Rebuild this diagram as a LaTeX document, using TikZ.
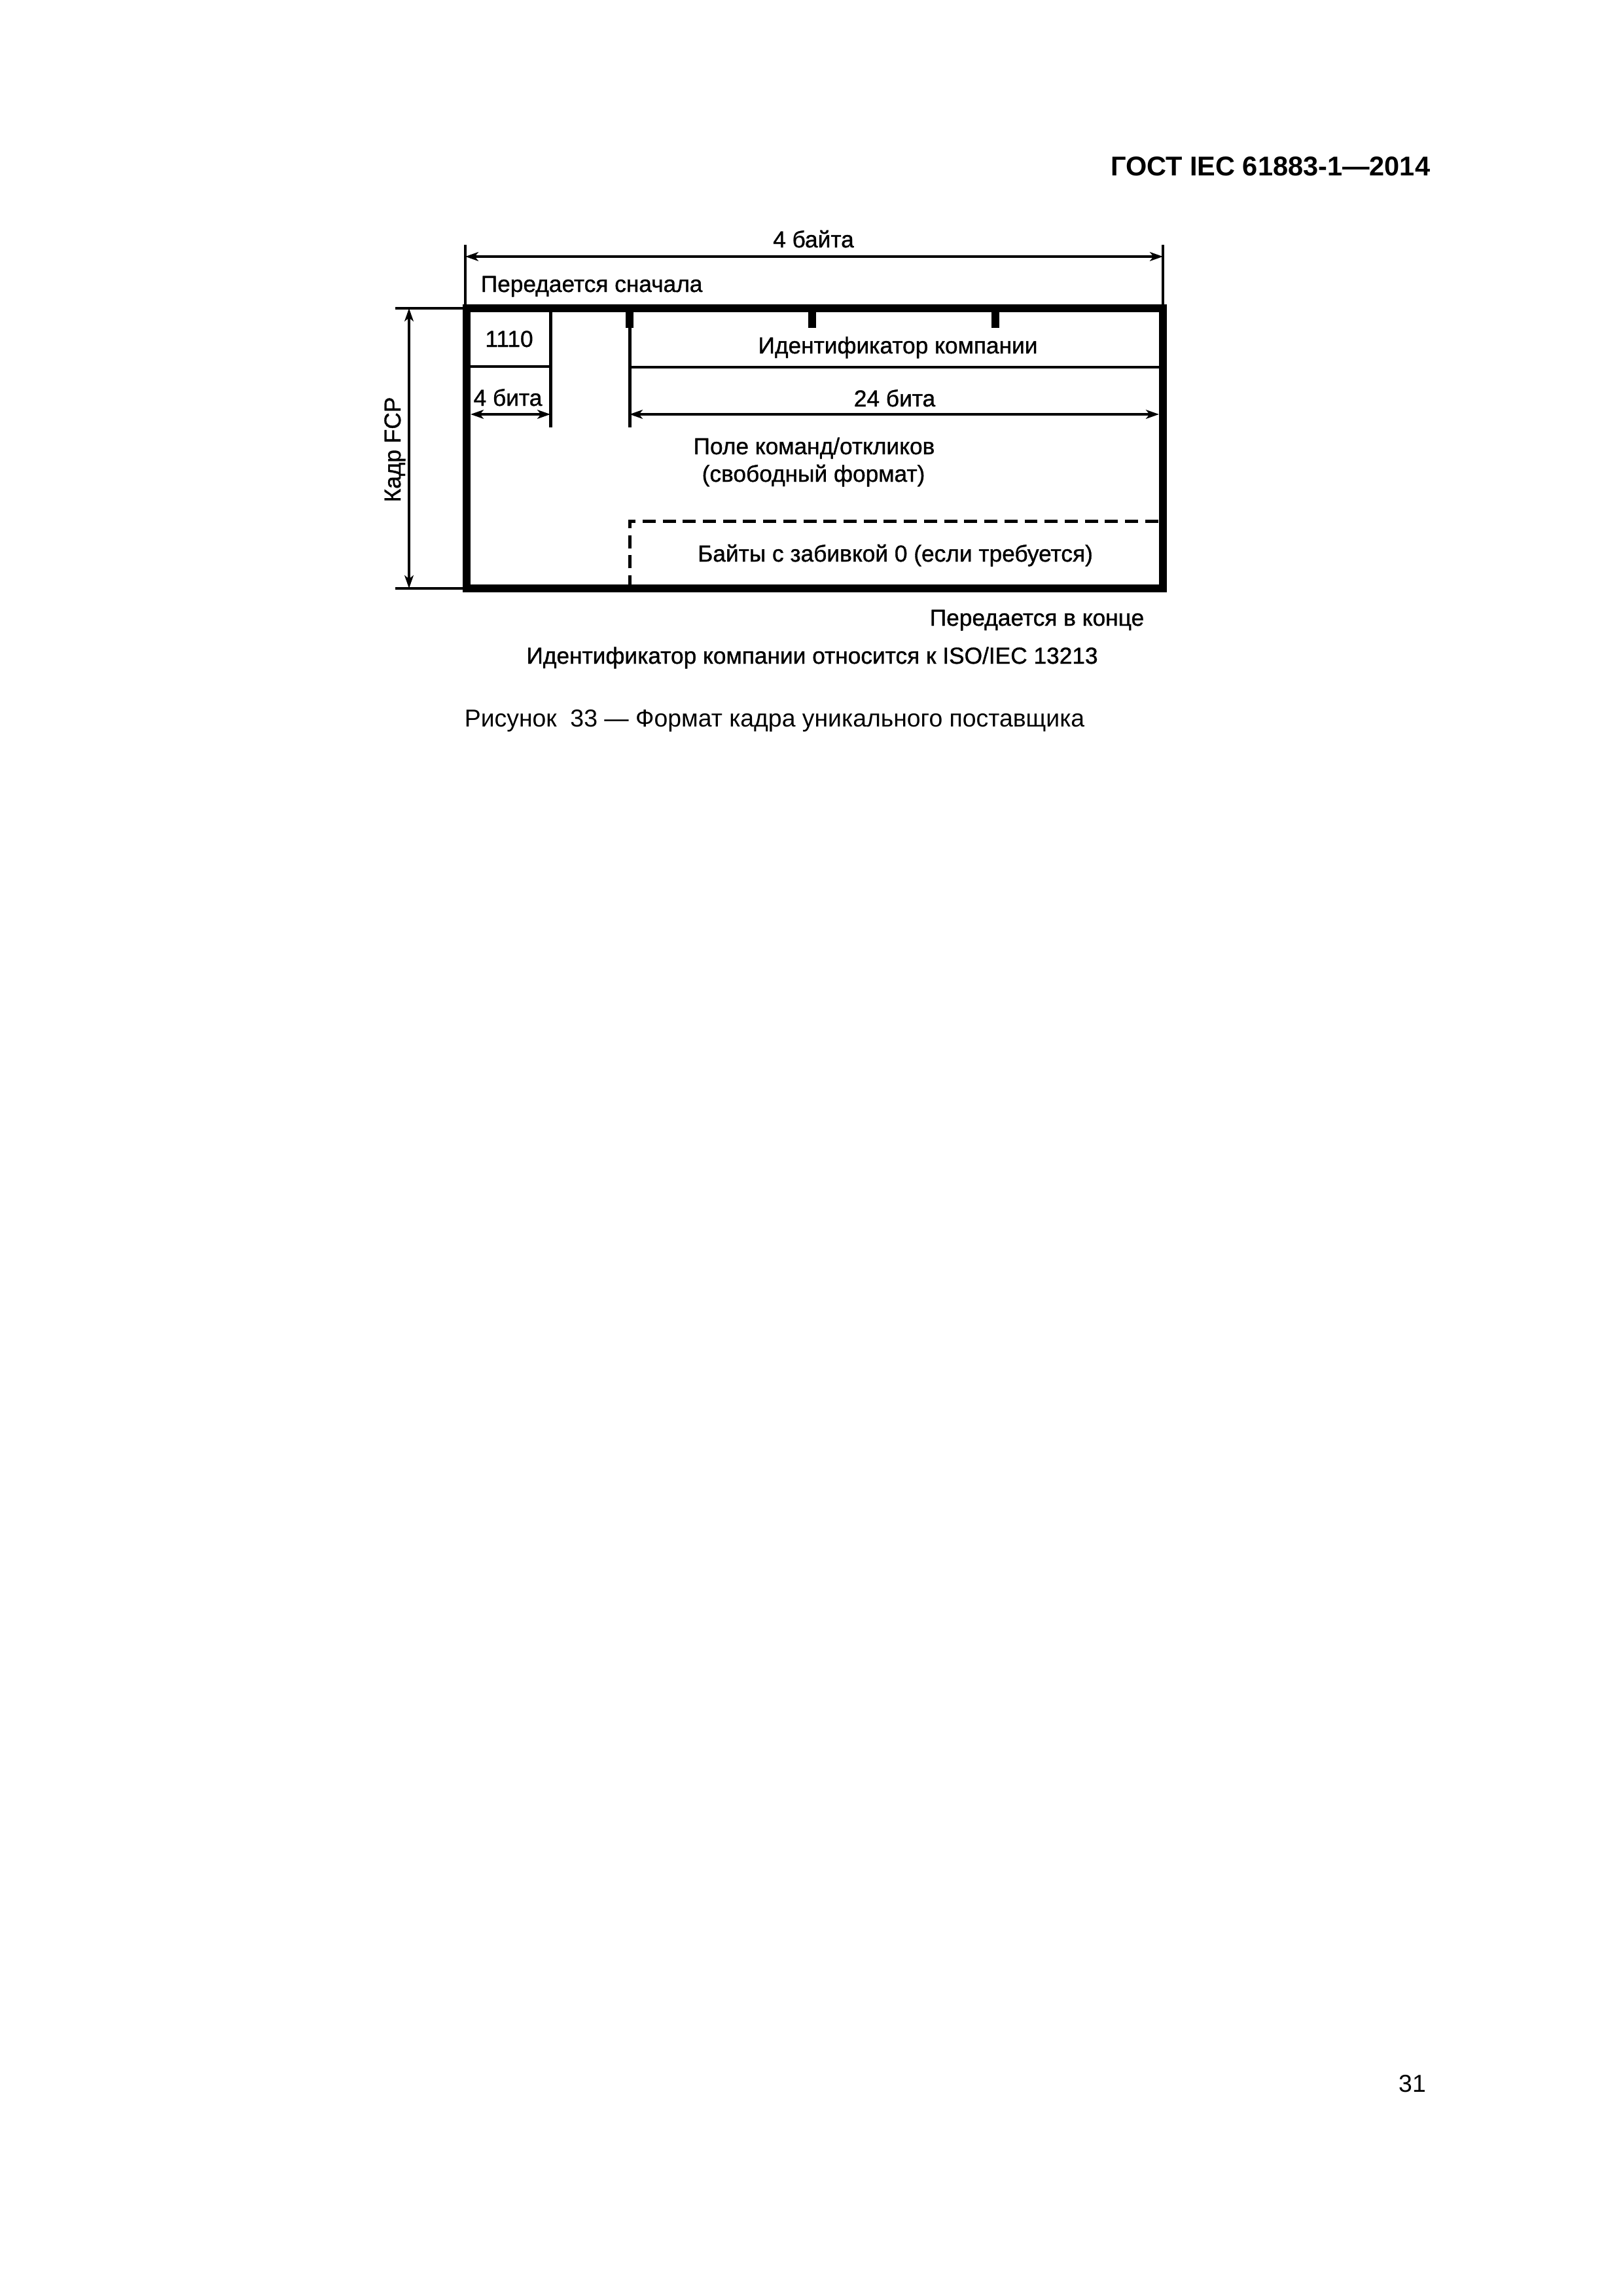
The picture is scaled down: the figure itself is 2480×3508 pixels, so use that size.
\documentclass[tikz,border=0pt]{standalone}
\usepackage{fontspec}
\setmainfont{Liberation Sans}
\newfontfamily\figfont[FakeBold=1]{Liberation Sans}
\usetikzlibrary{arrows.meta}
\begin{document}
\begin{tikzpicture}[x=0.0846774mm, y=-0.0846774mm,
  frame/.style={line width=2.7pt, line join=miter},
  rule/.style={line width=1.2pt},
  tickmark/.style={line width=2.9pt},
  dashline/.style={line width=1.2pt, dash pattern=on 4.8pt off 2.6pt},
  dimline/.style={line width=0.9pt, {Stealth[length=4.8pt,width=3.3pt,inset=1.3pt]}-{Stealth[length=4.8pt,width=3.3pt,inset=1.3pt]}},
  extline/.style={line width=0.9pt},
  txt/.style={font=\figfont\fontsize{8.5}{10.2}\selectfont, inner sep=0pt, anchor=base},
]
\useasboundingbox (0,0) rectangle (2480,3508);
\fill[white] (0,0) rectangle (2480,3508);

% frame corners
\coordinate (TL) at (713,471);
\coordinate (BR) at (1777,899);
\draw[frame] (TL) rectangle (BR);

% internal lines
\coordinate (a1) at (841,471);  \coordinate (a2) at (841,653);
\coordinate (b1) at (962,471);  \coordinate (b2) at (962,653);  \coordinate (b3) at (962,501);
\coordinate (t1a) at (1241,471); \coordinate (t1b) at (1241,501);
\coordinate (t2a) at (1521,471); \coordinate (t2b) at (1521,501);
\coordinate (h1a) at (713,560);  \coordinate (h1b) at (841,560);
\coordinate (h2a) at (962,561);  \coordinate (h2b) at (1777,561);
\draw[rule] (a1) -- (a2);
\draw[rule] (b1) -- (b2);
\draw[tickmark] (b1) -- (b3);
\draw[tickmark] (t1a) -- (t1b);
\draw[tickmark] (t2a) -- (t2b);
\draw[rule] (h1a) -- (h1b);
\draw[rule] (h2a) -- (h2b);

% dashed padding region
\coordinate (d0) at (962,899); \coordinate (d1) at (962,796); \coordinate (d2) at (1772,796);
\draw[dashline] (d0) -- (d1) -- (d2);

% top dimension
\coordinate (e1a) at (711,374); \coordinate (e1b) at (711,471);
\coordinate (e2a) at (1777,374); \coordinate (e2b) at (1777,471);
\coordinate (w1) at (711,392); \coordinate (w2) at (1777,392);
\draw[extline] (e1a) -- (e1b);
\draw[extline] (e2a) -- (e2b);
\draw[dimline] (w1) -- (w2);

% left dimension
\coordinate (l1a) at (604,471); \coordinate (l1b) at (713,471);
\coordinate (l2a) at (604,899); \coordinate (l2b) at (713,899);
\coordinate (v1) at (625,471); \coordinate (v2) at (625,899);
\draw[extline] (l1a) -- (l1b);
\draw[extline] (l2a) -- (l2b);
\draw[dimline] (v1) -- (v2);

% bit dimensions
\coordinate (f1) at (719,633); \coordinate (f2) at (841,633);
\coordinate (g1) at (962,633); \coordinate (g2) at (1771,633);
\draw[dimline] (f1) -- (f2);
\draw[dimline] (g1) -- (g2);

% texts
\node[txt] (bytes4) at (1243,378) {4 байта};
\node[txt, anchor=base west] (first) at (734,446) {Передается сначала};
\node[txt] (code) at (778,530) {1110};
\node[txt] (compid) at (1372,540) {Идентификатор компании};
\node[txt] (bits4) at (776,620) {4 бита};
\node[txt] (bits24) at (1367,621) {24 бита};
\node[txt] (field1) at (1244,694) {Поле команд/откликов};
\node[txt] (field2) at (1243,736) {(свободный формат)};
\node[txt] (pad) at (1368,858) {Байты с забивкой 0 (если требуется)};
\node[txt, rotate=90] (fcp) at (612,687) {Кадр FCP};
\node[txt, anchor=base east] (last) at (1749,956) {Передается в конце};
\node[txt] (note) at (1241,1014) {Идентификатор компании относится к ISO/IEC 13213};
\node[font=\fontsize{9}{11}\selectfont, inner sep=0pt, anchor=base west] (caption) at (709,1110) {Рисунок\ \ 33 — Формат кадра уникального поставщика};
\node[font=\fontsize{10}{12}\selectfont\bfseries, inner sep=0pt, anchor=base east] (header) at (2186,268) {ГОСТ IEC 61883-1—2014};
\node[font=\fontsize{9}{11}\selectfont, inner sep=0pt, anchor=base] (page) at (2158,3196) {31};
\end{tikzpicture}
\end{document}
